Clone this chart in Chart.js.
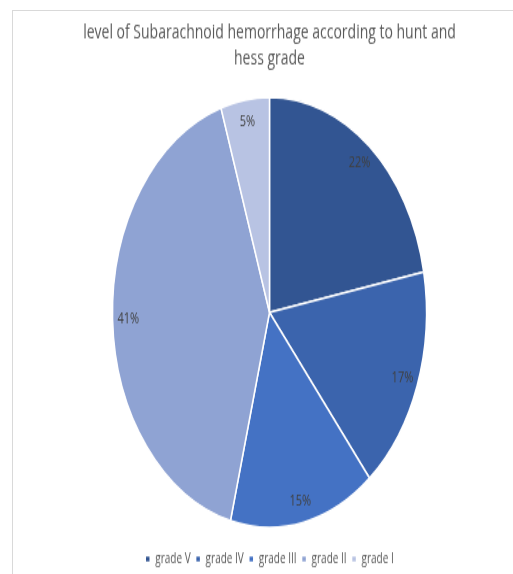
<!DOCTYPE html>
<html lang="en">
<head>
  <meta charset="UTF-8">
  <title>Hunt and Hess grade</title>
  <script src="https://cdn.jsdelivr.net/npm/chart.js"></script>
  <style>
    html, body { margin: 0; padding: 0; background: #fff; overflow: hidden; }
    body { width: 513px; height: 574px; position: relative; }
    .frame {
      position: absolute; left: 12px; top: 10px;
      width: 520px; height: 580px;
      border-left: 1px solid #d9d9d9; border-top: 1px solid #d9d9d9;
      overflow: hidden;
    }
    /* the original picture is stretched vertically */
    .stretch {
      width: 513px; height: 415px;
      transform: scaleY(1.37); transform-origin: 0 0;
    }
  </style>
</head>
<body>
  <div class="frame">
    <div class="stretch">
      <canvas id="gradePie" width="513" height="415"></canvas>
    </div>
  </div>
  <script>
    const grades = ['grade V', 'grade IV', 'grade III', 'grade II', 'grade I'];
    const percents = [22, 17, 15, 41, 5];
    const sliceColors = ['#325592', '#3B64AD', '#4472C4', '#8FA3D3', '#B8C3E3'];

    const fontName = '"Open Sans", "Liberation Sans", sans-serif';

    // draws the % labels near the outer edge of each slice
    const sliceLabels = {
      id: 'sliceLabels',
      afterDatasetsDraw(chart) {
        const ctx = chart.ctx;
        const meta = chart.getDatasetMeta(0);
        ctx.save();
        ctx.font = '11px ' + fontName;
        ctx.fillStyle = '#404040';
        ctx.textAlign = 'center';
        ctx.textBaseline = 'middle';
        meta.data.forEach((arc, i) => {
          const p = arc.getProps(['x', 'y', 'startAngle', 'endAngle', 'outerRadius'], true);
          const mid = (p.startAngle + p.endAngle) / 2;
          const r = p.outerRadius * 0.9;
          ctx.fillText(percents[i] + '%', p.x + Math.cos(mid) * r, p.y + Math.sin(mid) * r);
        });
        ctx.restore();
      }
    };

    new Chart(document.getElementById('gradePie'), {
      type: 'pie',
      data: {
        labels: grades,
        datasets: [{
          data: percents,
          backgroundColor: sliceColors,
          borderColor: '#ffffff',
          borderWidth: 1.5,
          radius: 157
        }]
      },
      options: {
        responsive: false,
        animation: false,
        layout: { padding: { left: 0, right: 0, top: 0, bottom: 0 } },
        plugins: {
          title: {
            display: true,
            text: ['level of Subarachnoid hemorrhage according to hunt and', 'hess grade'],
            color: '#595959',
            font: { family: fontName, size: 14, weight: 'normal', lineHeight: 1.32 },
            padding: { top: 7, bottom: 6 }
          },
          legend: {
            position: 'bottom',
            labels: {
              color: '#595959',
              font: { family: fontName, size: 10 },
              boxWidth: 5,
              boxHeight: 5,
              padding: 5
            }
          },
          tooltip: { enabled: false }
        }
      },
      plugins: [sliceLabels]
    });
  </script>
</body>
</html>
